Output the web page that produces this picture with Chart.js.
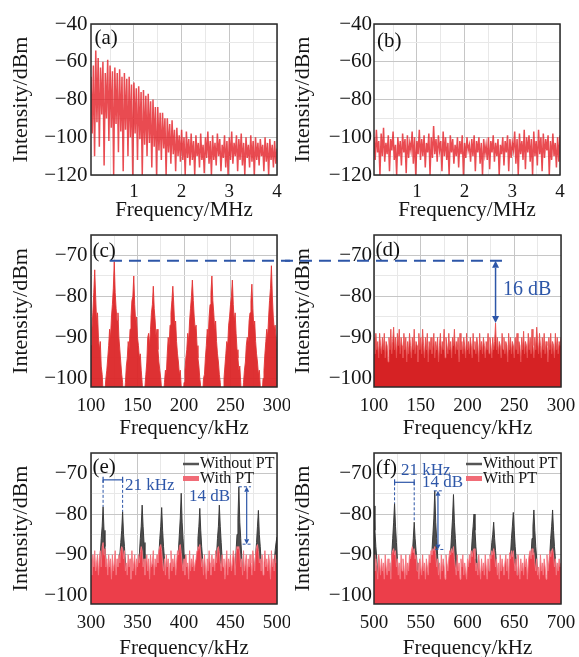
<!DOCTYPE html>
<html><head><meta charset="utf-8">
<script src="https://cdn.jsdelivr.net/npm/chart.js@4.4.1/dist/chart.umd.min.js"></script>
<style>
html,body{margin:0;padding:0;background:#fff;overflow:hidden;width:579px;height:657px;position:relative;}
canvas{position:absolute;}
</style></head><body>
<canvas id="ca"></canvas><canvas id="cb"></canvas>
<canvas id="cc"></canvas><canvas id="cd"></canvas>
<canvas id="ce"></canvas><canvas id="cf"></canvas>
<script>
// ---------------- DATA ----------------
// (a) intensity noise spectrum without PT, 0.1–4 MHz (dBm)
const spectrumA = [
-68,-98,-62,-110,-54,-92,-58,-105,-63,-88,
-60,-115,-66,-90,-59,-102,-62,-95,-65,-120,
-63,-93,-66,-108,-64,-97,-68,-118,-66,-96,
-69,-110,-68,-100,-72,-120,-71,-98,-74,-112,
-73,-101,-76,-120,-75,-104,-78,-110,-77,-103,
-81,-116,-80,-105,-84,-120,-84,-107,-87,-112,
-87,-106,-90,-120,-90,-108,-93,-114,-91,-109,
-96,-118,-95,-110,-99,-113,-96,-112,-100,-120,
-97,-111,-101,-115,-98,-112,-102,-120,-99,-110,
-103,-116,-98,-112,-104,-119,-100,-111,-97,-114,
-102,-120,-99,-112,-103,-115,-98,-110,-101,-118,
-104,-111,-99,-116,-102,-120,-100,-112,-97,-114,
-103,-110,-99,-118,-101,-112,-98,-115,-103,-120,
-100,-111,-104,-116,-99,-113,-102,-120,-100,-112,
-103,-115,-101,-110,-104,-118,-100,-113,-103,-120,
-101,-112,-104,-116,-102,-114,-106];
// (b) intensity noise spectrum with PT, 0.1–4 MHz (dBm)
const spectrumB = [
-100,-112,-96,-108,-102,-120,-98,-110,-95,-113,
-103,-109,-99,-118,-101,-107,-97,-112,-104,-120,
-100,-110,-102,-115,-98,-108,-101,-119,-99,-111,
-103,-107,-97,-114,-100,-120,-102,-109,-96,-112,
-101,-110,-99,-116,-103,-108,-98,-120,-100,-111,
-94,-109,-101,-113,-99,-107,-102,-118,-97,-110,
-100,-112,-103,-120,-99,-108,-101,-114,-104,-110,
-100,-116,-102,-109,-99,-120,-103,-111,-100,-107,
-104,-113,-101,-110,-99,-118,-102,-108,-100,-114,
-103,-120,-101,-109,-104,-112,-100,-117,-102,-108,
-99,-113,-103,-110,-101,-120,-104,-109,-100,-115,
-102,-108,-99,-118,-101,-111,-103,-107,-97,-114,
-101,-120,-98,-109,-102,-112,-96,-117,-100,-108,
-99,-113,-101,-120,-97,-110,-102,-115,-96,-109,
-100,-118,-98,-111,-101,-107,-99,-120,-102,-112,
-98,-110,-103,-116,-100,-113,-99];
// (c) without PT, 100–300 kHz, 1 kHz bins (dBm)
const spectrumC = [
-92,-88,-84,-79,-73.5,-80,-86,-84,-90,-93,
-91,-97,-99,-103,-106,-106,-100,-98,-95,-92,
-88,-90,-85,-82,-78,-71.5,-79,-83,-86,-84,
-90,-93,-96,-99,-101,-106,-104,-101,-97,-95,
-91,-93,-88,-85,-81,-80,-75,-82,-86,-85,
-90,-92,-95,-94,-98,-101,-105,-106,-102,-99,
-96,-90,-89,-92,-88,-84,-82,-77.5,-83,-86,
-90,-88,-93,-96,-98,-100,-103,-106,-104,-101,
-98,-99,-94,-90,-92,-87,-84,-81,-77.5,-82,
-87,-86,-91,-94,-96,-99,-98,-102,-106,-105,
-101,-98,-95,-93,-89,-91,-86,-83,-80,-76,
-81,-85,-88,-87,-92,-95,-97,-100,-102,-106,
-104,-100,-99,-95,-92,-88,-90,-85,-82,-79,
-75,-81,-84,-88,-86,-91,-94,-96,-99,-101,
-105,-106,-103,-100,-97,-94,-91,-92,-87,-85,
-82,-80,-76,-82,-86,-84,-89,-93,-95,-98,
-97,-101,-105,-104,-101,-98,-96,-92,-90,-91,
-86,-84,-81,-77,-83,-87,-86,-91,-94,-96,
-99,-98,-102,-106,-104,-100,-98,-94,-91,-88,
-90,-85,-81,-78,-72.5,-80,-85,-88,-87,-90,
-93];
// (d) with PT, 100–300 kHz (dBm)
const spectrumD = [
-90,-94,-89,-93,-91,-95,-89,-92,-94,-90,
-93,-89,-95,-91,-92,-96,-90,-93,-88,-94,
-91,-87.5,-93,-90,-95,-89,-92,-88,-94,-90,
-92,-95,-89,-93,-90,-96,-91,-94,-89,-92,
-95,-90,-93,-88,-94,-91,-92,-96,-89,-93,
-90,-94,-88,-92,-95,-90,-93,-89,-96,-91,
-93,-90,-94,-92,-89,-95,-91,-93,-90,-96,
-92,-89,-94,-91,-93,-88,-95,-90,-92,-94,
-89,-93,-91,-95,-90,-92,-88,-94,-91,-93,
-90,-96,-89,-93,-91,-94,-90,-92,-95,-89,
-93,-91,-94,-90,-92,-95,-89,-93,-91,-94,
-90,-92,-96,-89,-93,-91,-94,-90,-92,-95,
-91,-93,-89,-94,-90,-92,-95,-90,-93,-91,
-86.5,-93,-90,-94,-91,-92,-95,-89,-93,-90,
-94,-91,-92,-96,-89,-93,-90,-94,-91,-92,
-95,-90,-93,-89,-94,-91,-92,-96,-90,-93,
-88.5,-94,-91,-92,-95,-89,-93,-90,-94,-88,
-92,-95,-90,-93,-87.5,-91,-94,-89,-92,-95,
-90,-93,-89,-94,-91,-92,-96,-90,-93,-89,
-94,-91,-92,-95,-89,-93,-90,-94,-91,-92,
-90];
// (e) 300–500 kHz (dBm)
const withoutPT_E = [
-97,-97,-97,-97,-97,-97,-97,-97,-97,-94,
-90,-86,-83,-78.2,-84,-88,-91,-95,-97,-97,
-97,-97,-97,-97,-97,-97,-97,-97,-97,-97,
-94,-90,-87,-84,-79.4,-85,-88,-92,-95,-97,
-97,-97,-97,-97,-97,-97,-97,-97,-97,-97,
-97,-94,-90,-86,-83,-77.8,-83,-87,-91,-95,
-97,-97,-97,-97,-97,-97,-97,-97,-97,-97,
-97,-97,-94,-90,-86,-83,-78.4,-84,-88,-91,
-95,-97,-97,-97,-97,-97,-97,-97,-97,-97,
-97,-97,-97,-94,-89,-85,-81,-74.9,-82,-86,
-90,-94,-97,-97,-97,-97,-97,-97,-97,-97,
-97,-97,-97,-94,-90,-86,-83,-78.6,-84,-88,
-91,-95,-97,-97,-97,-97,-97,-97,-97,-97,
-97,-97,-97,-97,-94,-90,-86,-83,-77.8,-83,
-87,-91,-95,-97,-97,-97,-97,-97,-97,-97,
-97,-97,-97,-97,-97,-94,-89,-85,-81,-73.3,
-82,-86,-90,-94,-97,-97,-97,-97,-97,-97,
-97,-97,-97,-97,-97,-97,-94,-90,-87,-83,
-79.1,-85,-88,-92,-95,-97,-97,-97,-97,-97,
-97,-97,-97,-97,-97,-97,-94,-92,-89,-87,
-85.6];
const withPT_E = [
-91,-95,-90,-93,-89,-94,-92,-90,-95,-91,
-89,-93,-88,-87,-90,-88.5,-93,-91,-95,-90,
-93,-91,-96,-90,-94,-92,-89,-95,-91,-93,
-90,-92,-89,-88,-88.5,-91,-89,-94,-92,-95,
-90,-93,-91,-96,-89,-94,-92,-90,-95,-91,
-93,-90,-92,-89.5,-88,-89,-93,-91,-95,-92,
-90,-94,-91,-96,-90,-93,-92,-89,-95,-91,
-93,-90,-92,-89,-88,-87.5,-89,-92,-94,-91,
-95,-90,-93,-91,-96,-92,-89,-94,-91,-93,
-90,-95,-92,-89,-90,-88,-87.5,-89.5,-92,-94,
-91,-95,-90,-93,-92,-96,-89,-94,-91,-93,
-90,-94,-92,-91,-89,-88,-88.5,-87.5,-90,-93,
-91,-95,-90,-93,-96,-91,-94,-89,-92,-95,
-90,-93,-91,-94,-89,-92,-88.5,-88,-89.5,-92,
-94,-90,-93,-91,-96,-92,-89,-95,-91,-93,
-90,-94,-92,-89,-91,-95,-90,-88,-88.5,-88,
-90,-93,-91,-95,-89,-94,-92,-90,-96,-91,
-93,-90,-92,-95,-89,-91,-94,-90,-88,-87.5,
-89,-92,-91,-94,-90,-95,-92,-89,-93,-91,
-94,-90,-92,-96,-89,-93,-91,-94,-90,-92,
-91];
// (f) 500–700 kHz (dBm)
const withoutPT_F = [
-78,-84,-88,-91,-95,-97,-97,-97,-97,-97,
-97,-97,-97,-97,-97,-97,-97,-97,-94,-90,
-86,-82,-77.4,-83,-87,-91,-95,-97,-97,-97,
-97,-97,-97,-97,-97,-97,-97,-97,-97,-97,
-94,-90,-86,-82,-86,-89,-92,-95,-97,-97,
-97,-97,-97,-97,-97,-97,-97,-97,-97,-97,
-97,-94,-89,-85,-81,-74.3,-82,-86,-90,-94,
-97,-97,-97,-97,-97,-97,-97,-97,-97,-97,
-97,-94,-89,-85,-81,-75.2,-82,-86,-90,-94,
-97,-97,-97,-97,-97,-97,-97,-97,-97,-97,
-97,-97,-97,-94,-90,-86,-83,-80,-84,-88,
-91,-95,-97,-97,-97,-97,-97,-97,-97,-97,
-97,-97,-97,-97,-94,-90,-87,-85,-82,-86,
-89,-92,-95,-97,-97,-97,-97,-97,-97,-97,
-97,-97,-97,-97,-97,-94,-90,-86,-83,-79.6,
-84,-88,-91,-95,-97,-97,-97,-97,-97,-97,
-97,-97,-97,-97,-97,-97,-97,-94,-90,-86,
-83,-79,-84,-88,-91,-95,-97,-97,-97,-97,
-97,-97,-97,-97,-97,-97,-97,-94,-90,-86,
-83,-79,-84,-88,-91,-95,-97,-97,-97,-97,
-97];
const withPT_F = [
-90,-94,-91,-93,-96,-90,-92,-95,-91,-94,
-92,-96,-90,-93,-95,-91,-94,-92,-96,-90,
-89,-88.5,-90,-89,-93,-91,-95,-92,-96,-90,
-94,-91,-93,-96,-90,-95,-92,-94,-90,-91,
-89,-88,-89.5,-88.5,-91,-90,-94,-92,-96,-91,
-93,-95,-90,-94,-92,-96,-91,-93,-95,-90,
-92,-89,-90,-88.5,-89,-88,-90,-93,-91,-95,
-92,-96,-90,-94,-91,-93,-96,-90,-92,-94,
-91,-89,-90,-88.5,-89.5,-88,-91,-93,-95,-90,
-94,-92,-96,-91,-93,-90,-95,-92,-94,-96,
-91,-93,-90,-92,-89,-90.5,-89,-88.5,-91,-94,
-92,-95,-90,-93,-96,-91,-94,-92,-95,-90,
-93,-96,-91,-94,-90,-91,-89,-90,-88.5,-90,
-93,-91,-95,-92,-96,-90,-94,-91,-93,-95,
-92,-90,-94,-91,-96,-89.5,-91,-89,-90.5,-89,
-92,-94,-91,-95,-90,-93,-96,-91,-94,-92,
-95,-90,-93,-91,-96,-92,-90,-89,-91,-88.5,
-90,-89.5,-92,-94,-91,-95,-93,-96,-90,-94,
-92,-95,-91,-93,-96,-90,-94,-92,-89,-90.5,
-89,-88.5,-90,-93,-91,-95,-92,-94,-91,-93,
-92];

// axis ranges & tick labels
const rangeMHz = [0.1, 4], rangeC = [100, 300], rangeE = [300, 500], rangeF = [500, 700];
const rangeDbTop = [-120, -40], rangeDbLow = [-102.1, -65];
const ticksMHz = [0.5, 1, 1.5, 2, 2.5, 3, 3.5, 4], labelsMHz = [1, 2, 3, 4];
const ticksDbTop = [-120, -110, -100, -90, -80, -70, -60, -50, -40], labelsDbTop = [-120, -100, -80, -60, -40];
const ticksDbLow = [-100, -95, -90, -85, -80, -75, -70, -65], labelsDbLow = [-100, -90, -80, -70];
const ticksC = [100, 125, 150, 175, 200, 225, 250, 275, 300], labelsC = [100, 150, 200, 250, 300];
const ticksE = [300, 325, 350, 375, 400, 425, 450, 475, 500], labelsE = [300, 350, 400, 450, 500];
const ticksF = [500, 525, 550, 575, 600, 625, 650, 675, 700], labelsF = [500, 550, 600, 650, 700];
// annotation readings
const refLevel = -71.3, refFrom = 120.4, refTo = 240;
const arrowD = {f: 230, top: -71.3, bottom: -86.5};
const bracketE = {f1: 313, f2: 334, y: -71.6, p1: -78.2, p2: -79.4};
const arrowE = {f: 467.4, top: -73.3, bottom: -87.4};
const bracketF = {f1: 522, f2: 543, y: -72.2, p1: -77.4, p2: -82};
const arrowF = {f: 568.4, top: -74.3, bottom: -88.7};

// ---------------- RENDER ----------------
const FONT = "'Liberation Serif','Times New Roman',serif";
Chart.defaults.font.family = FONT;
Chart.defaults.color = '#151515';
const MAJOR = '#c6c6c6', MINOR = '#e8e8e8', BLUE = '#2d56a8';
const fmt = v => String(v).replace('-', '\u2212');
function pts(vals, r) { const n = vals.length; return vals.map((v, i) => ({x: r[0] + (r[1] - r[0]) * i / (n - 1), y: v})); }

function panel(c) {
  const [L, T, W, H] = c.box, A = c.area; // area: left, top, right, bottom (page px)
  const cv = document.getElementById(c.id);
  cv.width = W; cv.height = H;
  Object.assign(cv.style, {left: L + 'px', top: T + 'px', width: W + 'px', height: H + 'px'});
  return new Chart(cv, {
    type: 'line',
    data: {datasets: c.datasets},
    options: {
      responsive: false, animation: false, devicePixelRatio: 1, normalized: true,
      layout: {padding: {left: 0, top: A[1] - T, right: L + W - A[2], bottom: 0}},
      plugins: {legend: {display: false}, tooltip: {enabled: false}},
      elements: {point: {radius: 0}, line: {tension: 0, borderWidth: 1}},
      scales: {
        x: {
          type: 'linear', min: c.xr[0], max: c.xr[1],
          afterBuildTicks: s => { s.ticks = c.xt.map(v => ({value: v})); },
          afterFit: s => { s.height = T + H - A[3]; s.paddingLeft = 0; s.paddingRight = 0; },
          ticks: {autoSkip: false, maxRotation: 0, padding: c.xtp, font: {size: 19}, callback: v => c.xl.includes(v) ? fmt(v) : ''},
          grid: {drawTicks: false, lineWidth: 1, color: x => (x.tick && c.xl.includes(x.tick.value)) ? MAJOR : MINOR},
          border: {display: false},
          title: {display: true, text: c.xTitle, font: {size: 21}, padding: {top: 0, bottom: c.xtt}}
        },
        y: {
          type: 'linear', min: c.yr[0], max: c.yr[1],
          afterBuildTicks: s => { s.ticks = c.yt.map(v => ({value: v})); },
          afterFit: s => { s.width = A[0] - L; s.paddingTop = 0; s.paddingBottom = 0; },
          ticks: {autoSkip: false, padding: c.ytp, font: {size: 21}, callback: v => c.yl.includes(v) ? fmt(v) : ''},
          grid: {drawTicks: false, lineWidth: 1, color: x => (x.tick && c.yl.includes(x.tick.value)) ? MAJOR : MINOR},
          border: {display: false},
          title: {display: true, text: 'Intensity/dBm', font: {size: 22}, padding: {top: c.ytt, bottom: 0}}
        }
      }
    },
    plugins: [{id: 'deco', afterDraw: ch => {
      const ctx = ch.ctx, a = ch.chartArea;
      ctx.save();
      ctx.strokeStyle = '#2a2a2a'; ctx.lineWidth = 1.5;
      ctx.strokeRect(a.left, a.top, a.right - a.left, a.bottom - a.top);
      ctx.font = '21px ' + FONT; ctx.fillStyle = '#111'; ctx.textAlign = 'left'; ctx.textBaseline = 'middle';
      ctx.fillText(c.label, a.left + c.lab[0], a.top + c.lab[1]);
      ctx.restore();
      if (c.deco) { ctx.save(); c.deco(ch, ctx, v => ch.scales.x.getPixelForValue(v), v => ch.scales.y.getPixelForValue(v), a); ctx.restore(); }
    }}]
  });
}

function arrowV(ctx, x, y1, y2, hw, hl, lw) {
  ctx.strokeStyle = BLUE; ctx.fillStyle = BLUE; ctx.lineWidth = lw; ctx.setLineDash([]);
  ctx.beginPath(); ctx.moveTo(x, y1 + hl); ctx.lineTo(x, y2 - hl); ctx.stroke();
  ctx.beginPath(); ctx.moveTo(x, y1); ctx.lineTo(x - hw / 2, y1 + hl); ctx.lineTo(x + hw / 2, y1 + hl); ctx.closePath(); ctx.fill();
  ctx.beginPath(); ctx.moveTo(x, y2); ctx.lineTo(x - hw / 2, y2 - hl); ctx.lineTo(x + hw / 2, y2 - hl); ctx.closePath(); ctx.fill();
}
function line(ctx, x1, y1, x2, y2, lw, dash) {
  ctx.strokeStyle = BLUE; ctx.lineWidth = lw; ctx.setLineDash(dash || []);
  ctx.beginPath(); ctx.moveTo(x1, y1); ctx.lineTo(x2, y2); ctx.stroke(); ctx.setLineDash([]);
}
function text(ctx, s, x, y, size, color) {
  ctx.font = size + 'px ' + FONT; ctx.fillStyle = color || BLUE; ctx.textAlign = 'left'; ctx.textBaseline = 'middle';
  ctx.fillText(s, x, y);
}
function bracket(ctx, X, Y, b) {
  const x1 = X(b.f1), x2 = X(b.f2), y = Y(b.y);
  line(ctx, x1, y, x2, y, 1.2);
  line(ctx, x1, y - 3, x1, y + 3, 1.2); line(ctx, x2, y - 3, x2, y + 3, 1.2);
  line(ctx, x1, y, x1, Y(b.p1), 1, [3, 2]); line(ctx, x2, y, x2, Y(b.p2), 1, [3, 2]);
}
function legend(ctx, a) {
  ctx.lineCap = 'butt';
  ctx.strokeStyle = '#555'; ctx.lineWidth = 2.5;
  ctx.beginPath(); ctx.moveTo(a.left + 92, a.top + 11); ctx.lineTo(a.left + 108, a.top + 11); ctx.stroke();
  ctx.strokeStyle = 'rgba(240,100,112,0.95)'; ctx.lineWidth = 5;
  ctx.beginPath(); ctx.moveTo(a.left + 92, a.top + 25.5); ctx.lineTo(a.left + 108, a.top + 25.5); ctx.stroke();
  text(ctx, 'Without PT', a.left + 109, a.top + 11, 16, '#151515');
  text(ctx, 'With PT', a.left + 109, a.top + 25.5, 16, '#151515');
}

const lineRed = (d, r) => ({data: pts(d, r), borderColor: 'rgba(228,30,38,0.8)', borderWidth: 1.5, fill: false});
const redFill = (d, r, fc, bc) => ({data: pts(d, r), borderColor: bc, backgroundColor: fc, borderWidth: 1, fill: 'start', order: 0});
const grayFill = (d, r) => ({data: pts(d, r), borderColor: 'rgba(55,55,55,0.95)', backgroundColor: 'rgba(62,62,62,0.92)', borderWidth: 1, fill: 'start', order: 1});

const left = {ytp: 3.4, ytt: 8.5}, right = {ytp: 2, ytt: 4.8};
const row1 = {xtp: 5.3, xtt: 7.4, xr: rangeMHz, xt: ticksMHz, xl: labelsMHz, yr: rangeDbTop, yt: ticksDbTop, yl: labelsDbTop, xTitle: 'Frequency/MHz'};
const rowLow = {xtp: 7.3, xtt: 9.4, yr: rangeDbLow, yt: ticksDbLow, yl: labelsDbLow, xTitle: 'Frequency/kHz'};

panel(Object.assign({}, row1, left, {id: 'ca', box: [0, 0, 290, 230], area: [91, 24, 277, 175], label: '(a)', lab: [3.5, 14],
  datasets: [lineRed(spectrumA, rangeMHz)]}));
panel(Object.assign({}, row1, right, {id: 'cb', box: [285, 0, 294, 230], area: [374, 24, 560, 175], label: '(b)', lab: [3, 17],
  datasets: [lineRed(spectrumB, rangeMHz)]}));

let refStartAbs = 0;
const chartC = panel(Object.assign({}, rowLow, left, {id: 'cc', box: [0, 220, 290, 230], area: [91, 235, 277, 387], label: '(c)', lab: [1.5, 16],
  xr: rangeC, xt: ticksC, xl: labelsC,
  datasets: [redFill(spectrumC, rangeC, 'rgba(220,38,40,0.95)', 'rgba(226,52,52,0.9)')],
  deco: (ch, ctx, X, Y) => {
    refStartAbs = X(refFrom);
    line(ctx, X(refFrom), Y(refLevel), ch.width, Y(refLevel), 2, [12, 7]);
  }}));
panel(Object.assign({}, rowLow, right, {id: 'cd', box: [285, 220, 294, 230], area: [374, 235, 561, 387], label: '(d)', lab: [1.5, 15],
  xr: rangeC, xt: ticksC, xl: labelsC,
  datasets: [redFill(spectrumD, rangeC, 'rgb(214,34,36)', 'rgba(232,80,80,0.9)')],
  deco: (ch, ctx, X, Y) => {
    const X0 = chartC ? chartC.scales.x.getPixelForValue(refFrom) : refStartAbs;
    ctx.lineDashOffset = ((285 - X0) % 19 + 19) % 19;
    ctx.strokeStyle = BLUE; ctx.lineWidth = 2; ctx.setLineDash([12, 7]);
    ctx.beginPath(); ctx.moveTo(0, Y(refLevel)); ctx.lineTo(X(refTo), Y(refLevel)); ctx.stroke();
    ctx.setLineDash([]); ctx.lineDashOffset = 0;
    arrowV(ctx, X(arrowD.f), Y(arrowD.top), Y(arrowD.bottom), 7, 7, 1.5);
    text(ctx, '16 dB', X(238), Y(-78.4), 20);
  }}));
panel(Object.assign({}, rowLow, left, {id: 'ce', box: [0, 440, 290, 230], area: [91, 453, 277, 604], label: '(e)', lab: [1.5, 14],
  xr: rangeE, xt: ticksE, xl: labelsE,
  datasets: [redFill(withPT_E, rangeE, 'rgb(236,62,74)', 'rgba(244,118,128,0.95)'), grayFill(withoutPT_E, rangeE)],
  deco: (ch, ctx, X, Y, a) => {
    bracket(ctx, X, Y, bracketE);
    text(ctx, '21 kHz', X(336.6), Y(-72.9), 17);
    line(ctx, X(459), Y(arrowE.top), X(472), Y(arrowE.top), 1, [3, 2]);
    line(ctx, X(463), Y(arrowE.bottom), X(472), Y(arrowE.bottom), 1, [3, 2]);
    arrowV(ctx, X(arrowE.f), Y(arrowE.top), Y(arrowE.bottom), 5, 5, 1.2);
    text(ctx, '14 dB', X(405.4), Y(-75.7), 17);
    legend(ctx, a);
  }}));
panel(Object.assign({}, rowLow, right, {id: 'cf', box: [285, 440, 294, 230], area: [374, 453, 561, 604], label: '(f)', lab: [2, 15],
  xr: rangeF, xt: ticksF, xl: labelsF,
  datasets: [redFill(withPT_F, rangeF, 'rgb(236,62,74)', 'rgba(244,118,128,0.95)'), grayFill(withoutPT_F, rangeF)],
  deco: (ch, ctx, X, Y, a) => {
    bracket(ctx, X, Y, bracketF);
    text(ctx, '21 kHz', X(528.9), Y(-69.4), 17);
    line(ctx, X(564), Y(arrowF.top), X(573.5), Y(arrowF.top), 1, [3, 2]);
    line(ctx, X(565.6), Y(arrowF.bottom), X(574.6), Y(arrowF.bottom), 1, [3, 2]);
    arrowV(ctx, X(arrowF.f), Y(arrowF.top), Y(arrowF.bottom), 5, 5, 1.2);
    text(ctx, '14 dB', X(551.3), Y(-72.3), 17);
    legend(ctx, a);
  }}));
</script>
</body></html>
